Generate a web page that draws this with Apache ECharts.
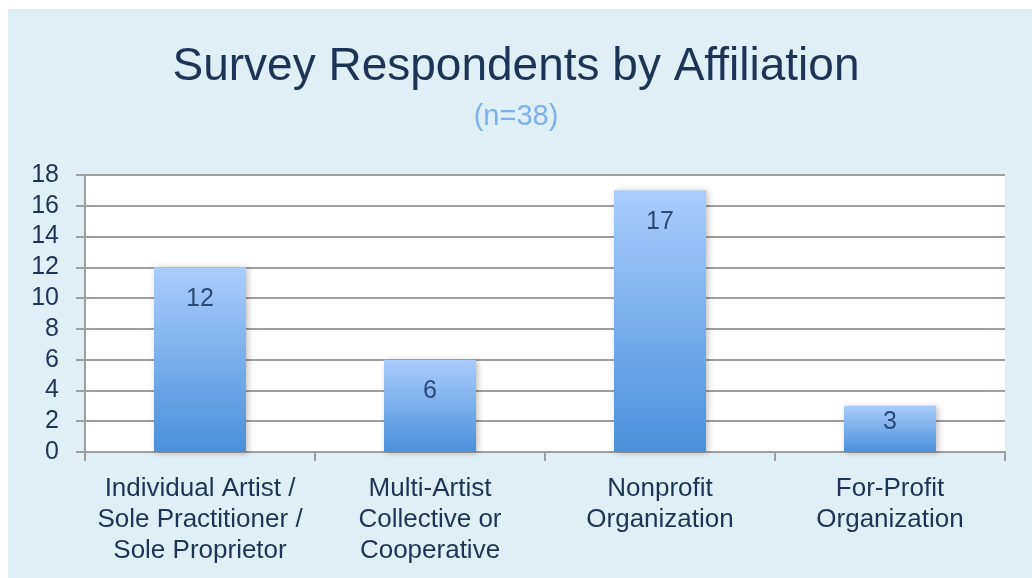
<!DOCTYPE html>
<html>
<head>
<meta charset="utf-8">
<script src="https://cdn.jsdelivr.net/npm/echarts@6/dist/echarts.min.js"></script>
<style>
html,body{margin:0;padding:0;background:#fff;}
#chart{width:1032px;height:578px;}
</style>
</head>
<body>
<div id="chart"></div>
<script>
const categories = [
  'Individual Artist /\nSole Practitioner /\nSole Proprietor',
  'Multi-Artist\nCollective or\nCooperative',
  'Nonprofit\nOrganization',
  'For-Profit\nOrganization'
];
const respondents = [12, 6, 17, 3];
const titleText = 'Survey Respondents by Affiliation';
const subtitleText = '(n=38)';

const chart = echarts.init(document.getElementById('chart'), null, {renderer: 'canvas'});
const navy = '#1e3358';
const font = '"Liberation Sans", Arial, sans-serif';
chart.setOption({
  backgroundColor: 'transparent',
  animation: false,
  graphic: [{
    type: 'rect', z: -10, silent: true,
    shape: {x: 8, y: 9, width: 1024, height: 569},
    style: {fill: '#e0eef6'}
  }],
  title: [{
    text: titleText,
    left: 'center', top: 39,
    textStyle: {fontFamily: font, fontWeight: 'normal', fontSize: 46, color: navy}
  }, {
    text: subtitleText,
    left: 'center', top: 97,
    textStyle: {fontFamily: font, fontWeight: 'normal', fontSize: 29, color: '#7eb1ea'}
  }],
  grid: {
    left: 85, right: 27, top: 175, bottom: 126,
    show: true, backgroundColor: '#ffffff', borderWidth: 0
  },
  xAxis: {
    type: 'category',
    data: categories,
    axisLine: {show: true, lineStyle: {color: '#9e9e9e', width: 2}},
    axisTick: {show: true, length: 9, lineStyle: {color: '#9e9e9e', width: 2}},
    axisLabel: {
      fontFamily: font, fontSize: 26, color: navy, lineHeight: 31, margin: 21, interval: 0
    }
  },
  yAxis: {
    type: 'value',
    min: 0, max: 18, interval: 2,
    axisLine: {show: true, lineStyle: {color: '#9e9e9e', width: 2}},
    axisTick: {show: true, length: 9, lineStyle: {color: '#9e9e9e', width: 2}},
    splitLine: {show: true, lineStyle: {color: '#9e9e9e', width: 2}},
    axisLabel: {fontFamily: font, fontSize: 25, color: navy, margin: 26}
  },
  series: [{
    type: 'bar',
    data: respondents.map(v => v < 5 ? {value: v, label: {distance: 4}} : v),
    barWidth: '40%',
    itemStyle: {
      color: new echarts.graphic.LinearGradient(0, 0, 0, 1, [
        {offset: 0, color: '#a9cdfd'},
        {offset: 1, color: '#4a90d9'}
      ]),
      shadowColor: 'rgba(0,0,0,0.25)', shadowBlur: 6, shadowOffsetX: 2, shadowOffsetY: 1
    },
    label: {
      show: true, position: 'insideTop', distance: 19,
      fontFamily: font, fontSize: 25, color: '#2b4a78'
    }
  }]
});
</script>
</body>
</html>
